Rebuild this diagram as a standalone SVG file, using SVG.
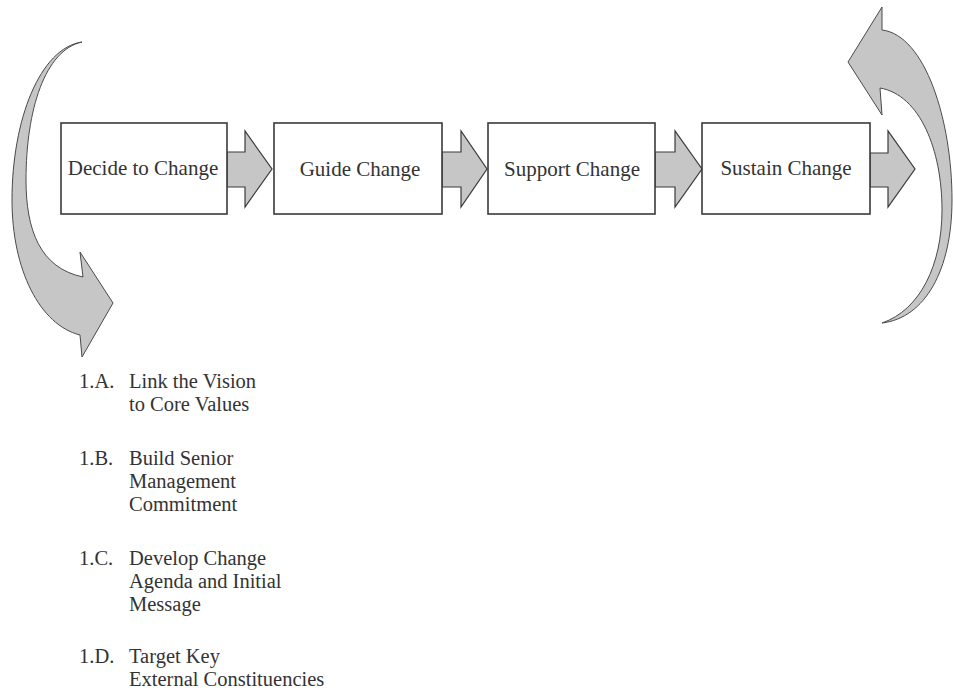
<svg xmlns="http://www.w3.org/2000/svg" width="953" height="694" viewBox="0 0 953 694">
  <style>
    .box { fill: #ffffff; stroke: #3a3a3a; stroke-width: 1.6; }
    .flow { fill: #c6c6c6; stroke: #3a3a3a; stroke-width: 1.2; stroke-linejoin: miter; }
    .curve { fill: #c6c6c6; stroke: #4a4a4a; stroke-width: 1; stroke-linejoin: miter; }
    .label { font-family: "Liberation Serif", "Times New Roman", serif; font-size: 21px; fill: #333333; }
    .step { font-size: 20.5px; }
    .mid { text-anchor: middle; }
  </style>

  <!-- curved loop arrows -->
  <g id="loop-in">
    <path class="curve" d="M82,42 C40,48 12,120 12,200 C12,270 40,325 80,335 L82,357 L113,303 L80,252 L83,277 C40,268 26,230 26,180 C26,110 45,50 82,42 Z"/>
  </g>
  <g id="loop-out">
    <path class="curve" d="M882,323 C925,318 952,270 952,200 C952,120 925,35 882,30 L882,7 L848,62 L882,115 L880,88 C920,95 942,150 942,210 C942,265 920,310 882,323 Z"/>
  </g>

  <!-- block arrows between stages -->
  <g id="connectors">
    <polygon class="flow" points="227,152 245,152 245,131 272,169 245,207 245,187 227,187"/>
    <polygon class="flow" points="442,152 461,152 461,131 487,169 461,207 461,187 442,187"/>
    <polygon class="flow" points="655,152 675,152 675,131 702,169 675,207 675,187 655,187"/>
    <polygon class="flow" points="870,153 888,153 888,131 915,169 888,207 888,187 870,187"/>
  </g>

  <!-- stages -->
  <g id="decide">
    <rect class="box" x="61" y="123" width="166" height="91"/>
    <text class="label mid" x="143" y="175">Decide to Change</text>
  </g>
  <g id="guide">
    <rect class="box" x="274" y="123" width="168" height="91"/>
    <text class="label mid" x="360" y="176">Guide Change</text>
  </g>
  <g id="support">
    <rect class="box" x="488" y="123" width="167" height="91"/>
    <text class="label mid" x="572" y="176">Support Change</text>
  </g>
  <g id="sustain">
    <rect class="box" x="702" y="123" width="168" height="91"/>
    <text class="label mid" x="786" y="175">Sustain Change</text>
  </g>

  <!-- steps of the first stage -->
  <g id="steps" class="label step">
    <text x="79" y="388">1.A.</text>
    <text x="129" y="388">Link the Vision</text>
    <text x="129" y="411">to Core Values</text>
    <text x="79" y="465">1.B.</text>
    <text x="129" y="465">Build Senior</text>
    <text x="129" y="488">Management</text>
    <text x="129" y="511">Commitment</text>
    <text x="79" y="565">1.C.</text>
    <text x="129" y="565">Develop Change</text>
    <text x="129" y="588">Agenda and Initial</text>
    <text x="129" y="611">Message</text>
    <text x="79" y="663">1.D.</text>
    <text x="129" y="663">Target Key</text>
    <text x="129" y="686">External Constituencies</text>
  </g>
</svg>
